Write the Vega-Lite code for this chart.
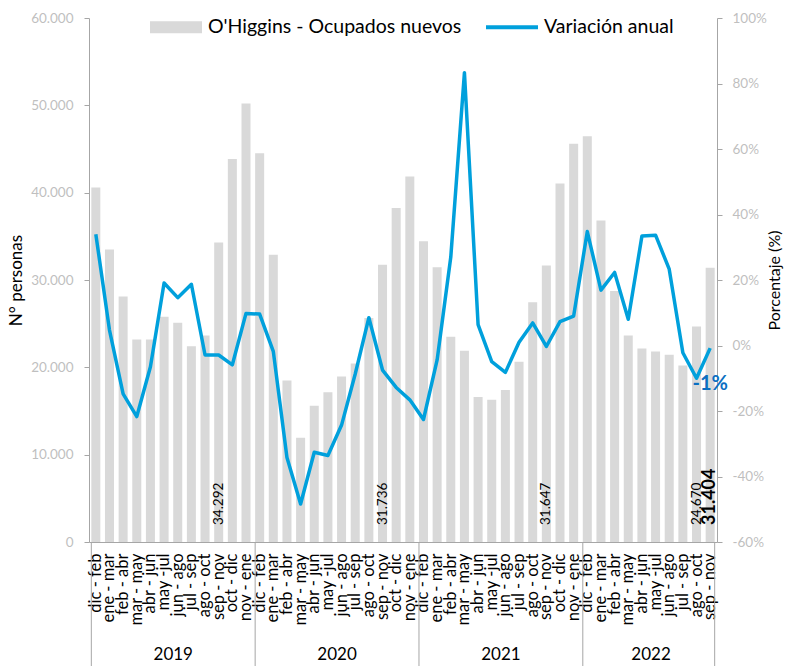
{
  "$schema": "https://vega.github.io/schema/vega-lite/v6.json",
  "width": 628,
  "height": 524,
  "autosize": "none",
  "padding": {"left": 89, "top": 18, "right": 69, "bottom": 124},
  "background": "white",
  "config": {
    "font": "Lato",
    "view": {"stroke": null},
    "locale": {"number": {"decimal": ",", "thousands": ".", "grouping": [3], "currency": ["$", ""], "minus": "-"}},
    "axis": {"grid": false, "domainColor": "#a6a6a6", "tickColor": "#a6a6a6", "labelFont": "Lato", "titleFont": "Lato"}
  },
  "data": {"values": [
    {"id": "2019 dic - feb", "anio": "2019", "periodo": "dic - feb", "ocupados": 40600, "variacion": 0.34},
    {"id": "2019 ene - mar", "anio": "2019", "periodo": "ene - mar", "ocupados": 33500, "variacion": 0.047},
    {"id": "2019 feb - abr", "anio": "2019", "periodo": "feb - abr", "ocupados": 28100, "variacion": -0.148},
    {"id": "2019 mar - may", "anio": "2019", "periodo": "mar - may", "ocupados": 23200, "variacion": -0.217},
    {"id": "2019 abr - jun", "anio": "2019", "periodo": "abr - jun", "ocupados": 23200, "variacion": -0.065},
    {"id": "2019 may -jul", "anio": "2019", "periodo": "may -jul", "ocupados": 25800, "variacion": 0.191},
    {"id": "2019 jun - ago", "anio": "2019", "periodo": "jun - ago", "ocupados": 25100, "variacion": 0.146},
    {"id": "2019 jul - sep", "anio": "2019", "periodo": "jul - sep", "ocupados": 22400, "variacion": 0.187},
    {"id": "2019 ago - oct", "anio": "2019", "periodo": "ago - oct", "ocupados": 23650, "variacion": -0.029},
    {"id": "2019 sep - nov", "anio": "2019", "periodo": "sep - nov", "ocupados": 34292, "variacion": -0.029},
    {"id": "2019 oct - dic", "anio": "2019", "periodo": "oct - dic", "ocupados": 43850, "variacion": -0.059},
    {"id": "2019 nov - ene", "anio": "2019", "periodo": "nov - ene", "ocupados": 50200, "variacion": 0.098},
    {"id": "2020 dic - feb", "anio": "2020", "periodo": "dic - feb", "ocupados": 44500, "variacion": 0.096},
    {"id": "2020 ene - mar", "anio": "2020", "periodo": "ene - mar", "ocupados": 32900, "variacion": -0.018},
    {"id": "2020 feb - abr", "anio": "2020", "periodo": "feb - abr", "ocupados": 18500, "variacion": -0.342},
    {"id": "2020 mar - may", "anio": "2020", "periodo": "mar - may", "ocupados": 11950, "variacion": -0.484},
    {"id": "2020 abr - jun", "anio": "2020", "periodo": "abr - jun", "ocupados": 15600, "variacion": -0.326},
    {"id": "2020 may -jul", "anio": "2020", "periodo": "may -jul", "ocupados": 17150, "variacion": -0.336},
    {"id": "2020 jun - ago", "anio": "2020", "periodo": "jun - ago", "ocupados": 18950, "variacion": -0.243},
    {"id": "2020 jul - sep", "anio": "2020", "periodo": "jul - sep", "ocupados": 20450, "variacion": -0.087},
    {"id": "2020 ago - oct", "anio": "2020", "periodo": "ago - oct", "ocupados": 25650, "variacion": 0.085},
    {"id": "2020 sep - nov", "anio": "2020", "periodo": "sep - nov", "ocupados": 31736, "variacion": -0.075},
    {"id": "2020 oct - dic", "anio": "2020", "periodo": "oct - dic", "ocupados": 38250, "variacion": -0.128},
    {"id": "2020 nov - ene", "anio": "2020", "periodo": "nov - ene", "ocupados": 41850, "variacion": -0.166},
    {"id": "2021 dic - feb", "anio": "2021", "periodo": "dic - feb", "ocupados": 34450, "variacion": -0.226},
    {"id": "2021 ene - mar", "anio": "2021", "periodo": "ene - mar", "ocupados": 31450, "variacion": -0.044},
    {"id": "2021 feb - abr", "anio": "2021", "periodo": "feb - abr", "ocupados": 23500, "variacion": 0.27},
    {"id": "2021 mar - may", "anio": "2021", "periodo": "mar - may", "ocupados": 21900, "variacion": 0.833},
    {"id": "2021 abr - jun", "anio": "2021", "periodo": "abr - jun", "ocupados": 16600, "variacion": 0.064},
    {"id": "2021 may -jul", "anio": "2021", "periodo": "may -jul", "ocupados": 16300, "variacion": -0.049},
    {"id": "2021 jun - ago", "anio": "2021", "periodo": "jun - ago", "ocupados": 17400, "variacion": -0.082},
    {"id": "2021 jul - sep", "anio": "2021", "periodo": "jul - sep", "ocupados": 20650, "variacion": 0.01},
    {"id": "2021 ago - oct", "anio": "2021", "periodo": "ago - oct", "ocupados": 27450, "variacion": 0.069},
    {"id": "2021 sep - nov", "anio": "2021", "periodo": "sep - nov", "ocupados": 31647, "variacion": -0.003},
    {"id": "2021 oct - dic", "anio": "2021", "periodo": "oct - dic", "ocupados": 41050, "variacion": 0.073},
    {"id": "2021 nov - ene", "anio": "2021", "periodo": "nov - ene", "ocupados": 45600, "variacion": 0.09},
    {"id": "2022 dic - feb", "anio": "2022", "periodo": "dic - feb", "ocupados": 46450, "variacion": 0.348},
    {"id": "2022 ene - mar", "anio": "2022", "periodo": "ene - mar", "ocupados": 36800, "variacion": 0.169},
    {"id": "2022 feb - abr", "anio": "2022", "periodo": "feb - abr", "ocupados": 28750, "variacion": 0.223},
    {"id": "2022 mar - may", "anio": "2022", "periodo": "mar - may", "ocupados": 23650, "variacion": 0.08},
    {"id": "2022 abr - jun", "anio": "2022", "periodo": "abr - jun", "ocupados": 22150, "variacion": 0.334},
    {"id": "2022 may -jul", "anio": "2022", "periodo": "may -jul", "ocupados": 21800, "variacion": 0.337},
    {"id": "2022 jun - ago", "anio": "2022", "periodo": "jun - ago", "ocupados": 21450, "variacion": 0.233},
    {"id": "2022 jul - sep", "anio": "2022", "periodo": "jul - sep", "ocupados": 20200, "variacion": -0.022},
    {"id": "2022 ago - oct", "anio": "2022", "periodo": "ago - oct", "ocupados": 24670, "variacion": -0.1},
    {"id": "2022 sep - nov", "anio": "2022", "periodo": "sep - nov", "ocupados": 31404, "variacion": -0.008}
  ]},
  "layer": [
    {
      "layer": [
        {
          "mark": {"type": "bar"},
          "encoding": {
            "x": {"field": "id", "type": "ordinal", "sort": null, "title": null,
              "scale": {"paddingInner": 0.34, "paddingOuter": 0.17},
              "axis": {"labelExpr": "slice(datum.value, 5)", "labelAngle": -90, "labelAlign": "right", "labelBaseline": "middle",
                "labelFontSize": 16.5, "labelColor": "#000000", "ticks": false, "labelPadding": 11, "labelOverlap": false, "labelBound": false, "domainColor": "#a6a6a6"}},
            "y": {"field": "ocupados", "type": "quantitative",
              "scale": {"domain": [0, 60000], "nice": false},
              "axis": {"values": [0, 10000, 20000, 30000, 40000, 50000, 60000], "format": ",.0f",
                "labelFontSize": 13.5, "labelColor": "#bfbfbf", "tickSize": 5, "labelPadding": 11,
                "title": "N° personas", "titleFontSize": 17, "titleFontWeight": "normal", "titleColor": "#000000", "titlePadding": 5}},
            "color": {"datum": "O'Higgins - Ocupados nuevos",
              "scale": {"domain": ["O'Higgins - Ocupados nuevos", "Variación anual"], "range": ["#d9d9d9", "#00a0dc"]},
              "legend": {"orient": "none", "legendX": 61, "legendY": -17, "direction": "horizontal", "columns": 2,
                "title": null, "labelFont": "Lato", "labelFontSize": 19.5, "labelColor": "#000000", "labelLimit": 400,
                "symbolSize": 2704, "labelOffset": 6, "columnPadding": 24, "padding": 0,
                "encode": {"symbols": {"update": {
                  "shape": {"signal": "datum.value === 'Variación anual' ? 'M-1,-0.075H1V0.075H-1Z' : 'M-1,-0.23H1V0.23H-1Z'"},
                  "fill": {"scale": "color", "field": "value"},
                  "stroke": {"value": "transparent"},
                  "strokeWidth": {"value": 0},
                  "opacity": {"value": 1}
                }}}}}
          }
        },
        {
          "mark": {"type": "rule", "color": "#a6a6a6", "strokeWidth": 1},
          "encoding": {
            "x": {"field": "id", "type": "ordinal", "sort": null, "title": null, "bandPosition": 0},
            "y": {"datum": 0},
            "y2": {"datum": -14300},
            "strokeOpacity": {"condition": {"test": "datum.periodo == 'dic - feb'", "value": 1}, "value": 0}
          }
        },
        {
          "mark": {"type": "rule", "color": "#a6a6a6", "strokeWidth": 1},
          "encoding": {
            "x": {"field": "id", "type": "ordinal", "sort": null, "title": null, "bandPosition": 1},
            "y": {"datum": 0},
            "y2": {"datum": -14300},
            "strokeOpacity": {"condition": {"test": "datum.id == '2022 sep - nov'", "value": 1}, "value": 0}
          }
        },
        {
          "mark": {"type": "text", "fontSize": 17, "color": "#000000", "dy": 113, "baseline": "middle", "align": "center"},
          "encoding": {
            "x": {"field": "id", "type": "ordinal", "sort": null, "title": null, "bandPosition": 0},
            "y": {"datum": 0},
            "text": {"condition": {"test": "(datum.anio != '2022' && datum.periodo == 'jun - ago') || (datum.anio == '2022' && datum.periodo == 'may -jul')", "field": "anio", "type": "nominal"}, "value": ""}
          }
        },
        {
          "mark": {"type": "text", "angle": 270, "align": "left", "baseline": "middle", "dx": 17, "fontSize": 13.5, "color": "#000000"},
          "encoding": {
            "x": {"field": "id", "type": "ordinal", "sort": null, "title": null},
            "y": {"datum": 0},
            "text": {"condition": {"test": "(datum.periodo == 'sep - nov' && datum.anio != '2022') || datum.id == '2022 ago - oct'", "field": "ocupados", "type": "quantitative", "format": ",.0f"}, "value": ""}
          }
        },
        {
          "mark": {"type": "text", "angle": 270, "align": "left", "baseline": "middle", "dx": 17, "fontSize": 18, "fontWeight": "bold", "color": "#000000"},
          "encoding": {
            "x": {"field": "id", "type": "ordinal", "sort": null, "title": null},
            "y": {"datum": 0},
            "text": {"condition": {"test": "datum.id == '2022 sep - nov'", "field": "ocupados", "type": "quantitative", "format": ",.0f"}, "value": ""}
          }
        }
      ]
    },
    {
      "layer": [
        {
          "mark": {"type": "line", "strokeWidth": 3.5, "strokeJoin": "round", "strokeCap": "butt"},
          "encoding": {
            "x": {"field": "id", "type": "ordinal", "sort": null, "title": null},
            "y": {"field": "variacion", "type": "quantitative",
              "scale": {"domain": [-0.6, 1], "nice": false},
              "axis": {"orient": "right", "values": [-0.6, -0.4, -0.2, 0, 0.2, 0.4, 0.6, 0.8, 1], "format": ".0%",
                "labelFontSize": 13.5, "labelColor": "#bfbfbf", "tickSize": 5, "labelPadding": 10,
                "title": "Porcentaje (%)", "titleAngle": 270, "titleBaseline": "top", "titleFontSize": 16, "titleFontWeight": "normal", "titleColor": "#000000", "titlePadding": 0}},
            "color": {"datum": "Variación anual"}
          }
        },
        {
          "mark": {"type": "text", "fontSize": 20, "fontWeight": "bold", "color": "#0b6fc2", "dy": 36, "align": "center", "baseline": "middle"},
          "encoding": {
            "x": {"field": "id", "type": "ordinal", "sort": null, "title": null},
            "y": {"field": "variacion", "type": "quantitative"},
            "text": {"condition": {"test": "datum.id == '2022 sep - nov'", "field": "variacion", "type": "quantitative", "format": ".0%"}, "value": ""}
          }
        }
      ]
    }
  ],
  "resolve": {"scale": {"y": "independent"}}
}
